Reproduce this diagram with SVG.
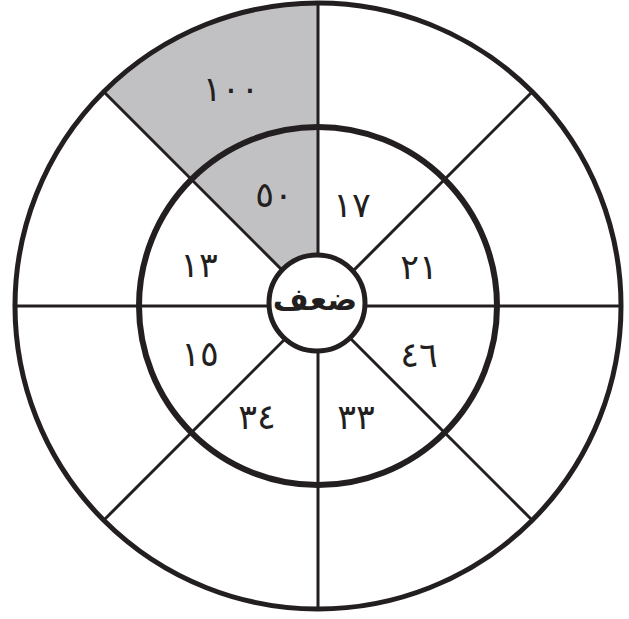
<svg xmlns="http://www.w3.org/2000/svg" width="629" height="619" viewBox="0 0 629 619">
<style>
.ring{fill:none;stroke:#231f20}
.spoke{stroke:#231f20;stroke-width:3}
.num{font-family:"DejaVu Sans",sans-serif;font-size:35px;fill:#231f20;text-anchor:middle;dominant-baseline:central;letter-spacing:4px}
.lbl{font-family:"DejaVu Sans",sans-serif;font-size:31px;font-weight:bold;fill:#231f20;text-anchor:middle;dominant-baseline:central}
</style>
<rect width="629" height="619" fill="#fff"/>
<g id="shade">
<path d="M318,306 L318,3 A303,303 0 0 0 103.75,91.75 Z" fill="#c1c1c3"/>
</g>
<g id="connectors">
<line class="spoke" x1="318" y1="3" x2="318" y2="609"/>
<line class="spoke" x1="15" y1="306" x2="621" y2="306"/>
<line class="spoke" x1="103.75" y1="91.75" x2="532.25" y2="520.25"/>
<line class="spoke" x1="532.25" y1="91.75" x2="103.75" y2="520.25"/>
</g>
<g id="outer-ring"><circle class="ring" cx="318" cy="306" r="303" stroke-width="5"/></g>
<g id="inner-ring"><circle class="ring" cx="318" cy="306" r="179" stroke-width="6"/></g>
<g id="center">
<circle cx="317" cy="303" r="48" fill="#fff" stroke="#231f20" stroke-width="5"/>
<text class="lbl" x="315" y="299">ضعف</text>
</g>
<g id="labels">
<text class="num" x="231" y="89">١٠٠</text>
<text class="num" x="274" y="195">٥٠</text>
<text class="num" x="352" y="205">١٧</text>
<text class="num" x="419" y="267">٢١</text>
<text class="num" x="199" y="265">١٣</text>
<text class="num" x="200" y="354">١٥</text>
<text class="num" x="419" y="355">٤٦</text>
<text class="num" x="257" y="417">٣٤</text>
<text class="num" x="356" y="417">٣٣</text>
</g>
</svg>
